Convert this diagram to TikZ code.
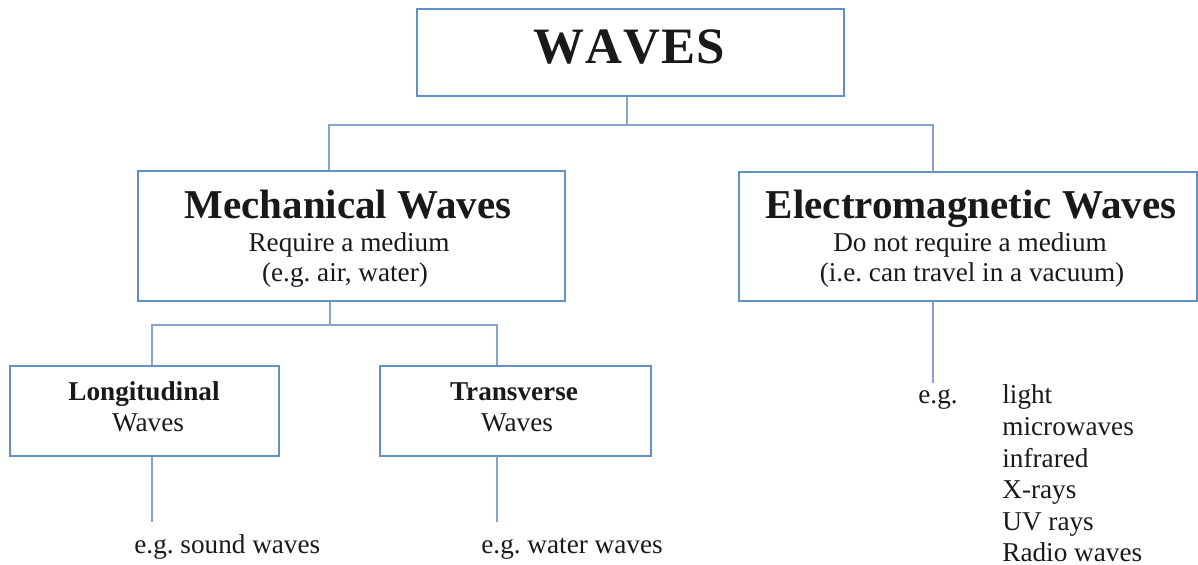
\documentclass[tikz,border=0pt]{standalone}
\usepackage{fontspec}
\setmainfont{Liberation Serif}
\definecolor{boxc}{RGB}{100,145,195}
\definecolor{linec}{RGB}{135,165,198}
\definecolor{txt}{RGB}{25,25,25}
\begin{document}
\frenchspacing
\begin{tikzpicture}[x=0.5pt,y=-0.5pt,
  box/.style={draw=boxc,line width=1pt,fill=white,anchor=north west,inner sep=0pt},
  conn/.style={draw=linec,line width=0.8pt},
  body/.style={font=\fontsize{13.6}{15.8}\selectfont,text=txt,inner sep=0pt},
  title/.style={font=\fontsize{20.5}{24}\selectfont\bfseries,text=txt,inner sep=0pt},
  big/.style={font=\fontsize{25.5}{30}\selectfont\bfseries,text=txt,inner sep=0pt}]
\fill[white] (0,0) rectangle (1198,565);
\useasboundingbox (0,0) rectangle (1198,565);

% boxes
\node[box,minimum width=213.5pt,minimum height=43.5pt] (waves) at (416,8) {};
\node[box,minimum width=213.5pt,minimum height=65pt] (mech) at (137,170) {};
\node[box,minimum width=229pt,minimum height=64.5pt] (em) at (738,171) {};
\node[box,minimum width=134.5pt,minimum height=45pt] (long) at (9,365) {};
\node[box,minimum width=135.5pt,minimum height=45pt] (trans) at (379,365) {};

% junction coordinates
\coordinate (j1) at (627,125);
\coordinate (bm) at (329,125);
\coordinate (be) at (933,125);
\coordinate (j2) at (330,325);
\coordinate (bl) at (152,325);
\coordinate (bt) at (497,325);
\coordinate (el) at (152,522);
\coordinate (et) at (497,522);
\coordinate (ee) at (933,383);

% connectors
\draw[conn] (waves.south -| j1) -- (j1);
\draw[conn] (mech.north -| bm) -- (bm) -- (be) -- (em.north -| be);
\draw[conn] (mech.south -| j2) -- (j2);
\draw[conn] (long.north -| bl) -- (bl) -- (bt) -- (trans.north -| bt);
\draw[conn] (long.south -| el) -- (el);
\draw[conn] (trans.south -| et) -- (et);
\draw[conn] (em.south -| ee) -- (ee);

% texts
\node[big,anchor=base] (tw) at (629,64) {W\kern0.6pt A\kern0.6pt V\kern0.6pt E\kern0.6pt S};

\node[title,anchor=base] (tm) at (348,219) {Mechanical Waves};
\node[body,anchor=base] (tm1) at (349,252) {Require a medium};
\node[body,anchor=base] (tm2) at (345,282) {(e.g. air, water)};

\node[title,anchor=base] (te) at (971,219) {Electromagnetic Waves};
\node[body,anchor=base] (te1) at (970,252) {Do not require a medium};
\node[body,anchor=base] (te2) at (972,282) {(i.e. can travel in a vacuum)};

\node[body,anchor=base,font=\fontsize{13.6}{15.5}\selectfont\bfseries] (tl) at (144,401) {Longitudinal};
\node[body,anchor=base] (tl1) at (148,432) {Waves};
\node[body,anchor=base,font=\fontsize{13.6}{15.5}\selectfont\bfseries] (tt) at (514,401) {Transverse};
\node[body,anchor=base] (tt1) at (517,432) {Waves};

\node[body,anchor=base west] (eg1) at (134,554) {e.g. sound waves};
\node[body,anchor=base west] (eg2) at (481,554) {e.g. water waves};

\node[body,anchor=base west] (eg3) at (918,404) {e.g.};
\node[body,anchor=base west,align=left] (list) at (1002,562)
  {light\\microwaves\\infrared\\X-rays\\UV rays\\Radio waves};
\end{tikzpicture}
\end{document}
